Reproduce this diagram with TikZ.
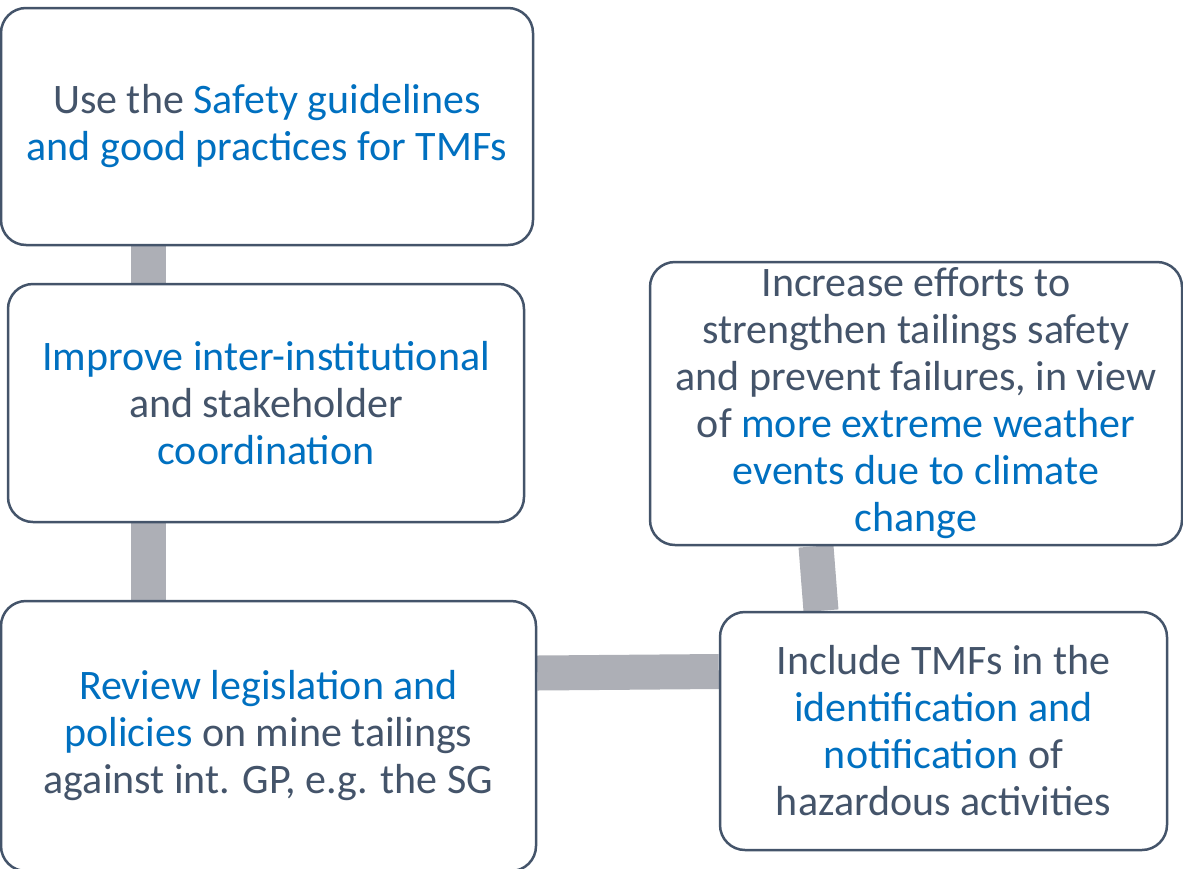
\documentclass[tikz,border=0pt]{standalone}
\usepackage{fontspec}
\setmainfont{Carlito}
\usetikzlibrary{backgrounds}
\definecolor{tgray}{RGB}{68,84,106}
\definecolor{tblue}{RGB}{0,112,192}
\definecolor{lgray}{RGB}{173,175,182}
\newcommand{\hl}[1]{\textcolor{tblue}{#1}}
\begin{document}
\begin{tikzpicture}[x=1pt,y=-1pt,
    box/.style={draw=tgray,line width=2.5pt,rounded corners=25pt,fill=white,
      text=tgray,align=center,inner sep=0pt,
      font=\fontsize{42}{47}\selectfont},
    link/.style={draw=lgray,line width=35pt}]
          \clip (0,0) rectangle (1183,868);
          \node[box,minimum width=532,minimum height=237] (guide) at (267,126.5)
            {Use the \hl{Safety guidelines}\\\hl{and good practices for TMFs}};
          \node[box,minimum width=516,minimum height=238] (coord) at (266,403)
            {\hl{Improve inter-institutional}\\and stakeholder\\\hl{coordination}};
          \node[box,minimum width=535,minimum height=270] (review) at (268.5,736)
            {\hl{Review legislation and}\\\hl{policies} on mine tailings\\against int. GP, e.g. the SG};
          \node[box,minimum width=532,minimum height=283] (climate) at (916,403.5)
            {Increase efforts to\\strengthen tailings safety\\and prevent failures, in view\\of \hl{more extreme weather}\\\hl{events due to climate}\\\hl{change}};
          \node[box,minimum width=447,minimum height=238] (notify) at (943.5,731)
            {Include TMFs in the\\\hl{identification and}\\\hl{notification} of\\hazardous activities};
          \begin{scope}[on background layer]
            \draw[link] ([xshift=-119]guide.south) -- ([xshift=-118]coord.north);
            \draw[link] ([xshift=-118]coord.south) -- ([xshift=-120.5]review.north);
            \draw[link] ([yshift=63]review.east) -- ([yshift=59.5]notify.west);
            \draw[link] ([xshift=-100]climate.south) -- ([xshift=-122.5]notify.north);
          \end{scope}
        \end{tikzpicture}
\end{document}
